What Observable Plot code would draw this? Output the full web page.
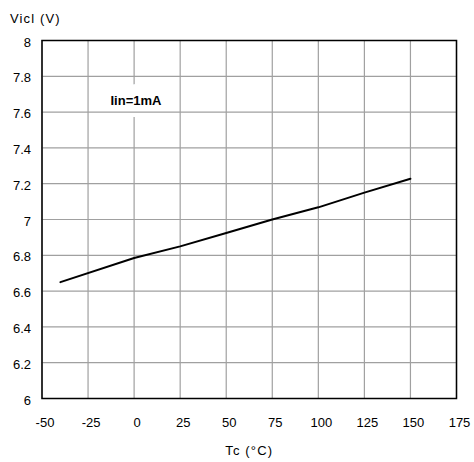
<!DOCTYPE html>
<html>
<head>
<meta charset="utf-8">
<script src="https://cdn.jsdelivr.net/npm/d3@7"></script>
<script src="https://cdn.jsdelivr.net/npm/@observablehq/plot@0.6"></script>
<style>
  body { margin: 0; background: #fff; }
  svg { font-family: "Liberation Sans", Arial, sans-serif; }
</style>
</head>
<body>
<div id="chart"></div>
<script>
const tc = [-40, 0, 25, 50, 75, 100, 125, 150];
const vicl = [6.65, 6.785, 6.85, 6.925, 7.0, 7.068, 7.15, 7.228];
const xTicks = [-50, -25, 0, 25, 50, 75, 100, 125, 150, 175];
const yTicks = [6, 6.2, 6.4, 6.6, 6.8, 7, 7.2, 7.4, 7.6, 7.8, 8];
const annotation = [{label: "Iin=1mA", x: 1, y: 7.665}];
const yTitle = ["Vicl (V)"];
const xTitle = ["Tc (°C)"];

const data = tc.map((t, i) => ({t, v: vicl[i]}));
const fmt = d => String(d);

const chart = Plot.plot({
  width: 474,
  height: 462,
  marginLeft: 41.5,
  marginRight: 18,
  marginTop: 40,
  marginBottom: 64,
  style: {fontFamily: "Liberation Sans, Arial, sans-serif", fontSize: "13px", color: "#000", background: "#fff"},
  x: {domain: [-50, 175]},
  y: {domain: [6, 8]},
  marks: [
    Plot.gridX(xTicks, {stroke: "#a0a0a0", strokeOpacity: 1, strokeWidth: 1.2}),
    Plot.text(annotation, {x: "x", y: "y", text: "label", fill: "white", stroke: "white", strokeWidth: 24, fontSize: 13, fontWeight: "bold"}),
    Plot.gridY(yTicks, {stroke: "#a0a0a0", strokeOpacity: 1, strokeWidth: 1.2}),
    Plot.text(annotation, {x: "x", y: "y", text: "label", fill: "black", fontSize: 13, fontWeight: "bold"}),
    Plot.line(data, {x: "t", y: "v", stroke: "black", strokeWidth: 2}),
    Plot.frame({stroke: "black", strokeWidth: 1.5}),
    Plot.axisX(xTicks, {tickSize: 0, tickPadding: 19, dx: 3, tickFormat: fmt, label: null, fontSize: 13}),
    Plot.axisY(yTicks, {tickSize: 0, tickPadding: 11, dy: 2, tickFormat: fmt, label: null, fontSize: 13}),
    Plot.text(yTitle, {frameAnchor: "top-left", text: d => d, textAnchor: "start", lineAnchor: "middle", dx: -32, dy: -22, fontSize: 13}),
    Plot.text(xTitle, {frameAnchor: "bottom", text: d => d, textAnchor: "middle", lineAnchor: "middle", dy: 52, fontSize: 13})
  ]
});
d3.select(chart).selectAll("text")
  .filter(function() { return this.textContent === yTitle[0] || this.textContent === xTitle[0]; })
  .style("letter-spacing", "1.15px");
document.getElementById("chart").appendChild(chart);
</script>
</body>
</html>
